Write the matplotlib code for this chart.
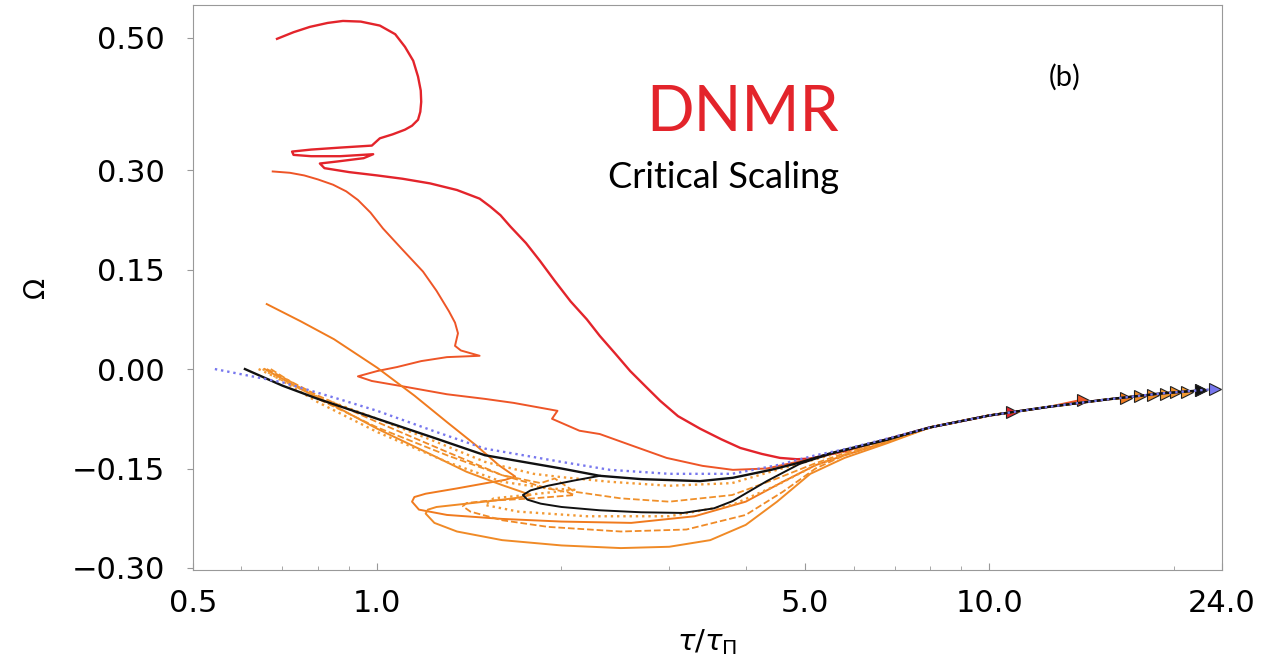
import numpy as np
import matplotlib
matplotlib.use("Agg")
from matplotlib import pyplot as plt
from matplotlib.ticker import FixedLocator, NullFormatter, LogLocator

# shared late-time attractor that all trajectories fall onto
att_x = [8.0, 10.0, 12.5, 15.5, 19.0, 24.0]
att_y = [-0.088, -0.070, -0.057, -0.046, -0.037, -0.029]

# DNMR trajectories (early part)
red_x = [0.686, 0.73, 0.776, 0.83, 0.879, 0.94, 1.01, 1.07, 1.11, 1.145, 1.166, 1.178, 1.18,
         1.176, 1.166, 1.14, 1.11, 1.06, 1.01, 0.98, 0.87, 0.78, 0.726, 0.73, 0.78, 0.87,
         0.985, 0.95, 0.86, 0.806, 0.82, 0.9, 1.0, 1.1, 1.22, 1.35, 1.47, 1.53, 1.59, 1.65,
         1.75, 1.845, 1.95, 2.07, 2.2, 2.31, 2.45, 2.59, 2.75, 2.9, 3.1, 3.37, 3.65, 3.92,
         4.25, 4.55, 4.85, 5.1, 5.8, 6.8]
red_y = [0.498, 0.508, 0.516, 0.522, 0.525, 0.524, 0.518, 0.505, 0.486, 0.465, 0.441, 0.42,
         0.403, 0.388, 0.376, 0.367, 0.361, 0.354, 0.348, 0.337, 0.334, 0.331, 0.328, 0.323,
         0.321, 0.321, 0.324, 0.318, 0.313, 0.310, 0.303, 0.297, 0.292, 0.287, 0.280, 0.270,
         0.257, 0.245, 0.232, 0.215, 0.19, 0.163, 0.133, 0.102, 0.075, 0.050, 0.023, -0.003,
         -0.027, -0.048, -0.071, -0.090, -0.106, -0.119, -0.128, -0.134, -0.136, -0.135,
         -0.124, -0.106]

ored_x = [0.675, 0.72, 0.76, 0.8, 0.847, 0.89, 0.93, 0.975, 1.022, 1.10, 1.188, 1.25, 1.31,
          1.34, 1.355, 1.34, 1.37, 1.47, 1.30, 1.18, 1.077, 1.0, 0.93, 0.98, 1.10, 1.30,
          1.50, 1.67, 1.97, 1.93, 2.14, 2.31, 2.6, 2.97, 3.4, 3.81, 4.33, 4.9, 5.6, 6.8]
ored_y = [0.298, 0.296, 0.292, 0.286, 0.278, 0.268, 0.255, 0.236, 0.212, 0.180, 0.147, 0.118,
          0.087, 0.07, 0.054, 0.035, 0.028, 0.020, 0.018, 0.012, 0.003, -0.003, -0.011,
          -0.018, -0.026, -0.038, -0.045, -0.051, -0.063, -0.075, -0.093, -0.098, -0.115,
          -0.134, -0.146, -0.152, -0.150, -0.139, -0.126, -0.107]

o1_x = [0.66, 0.75, 0.85, 1.0, 1.15, 1.3, 1.45, 1.58, 1.68, 1.62, 1.55, 1.35, 1.2, 1.15,
        1.14, 1.17, 1.3, 1.6, 2.0, 2.6, 3.3, 4.0, 4.6, 5.2, 5.8, 6.8]
o1_y = [0.098, 0.072, 0.045, 0.002, -0.04, -0.08, -0.115, -0.145, -0.162, -0.167, -0.17,
        -0.18, -0.188, -0.193, -0.2, -0.212, -0.22, -0.226, -0.23, -0.232, -0.222, -0.2,
        -0.17, -0.145, -0.13, -0.11]

o2_x = [0.655, 0.75, 0.85, 1.0, 1.2, 1.4, 1.6, 1.72, 1.78, 1.7, 1.6, 1.4, 1.25, 1.21, 1.2,
        1.24, 1.35, 1.6, 2.0, 2.5, 3.0, 3.5, 4.0, 4.5, 5.1, 5.8, 6.8]
o2_y = [0.0, -0.03, -0.055, -0.09, -0.125, -0.155, -0.175, -0.185, -0.19, -0.194, -0.197,
        -0.203, -0.208, -0.212, -0.218, -0.232, -0.245, -0.258, -0.266, -0.27, -0.268,
        -0.258, -0.235, -0.2, -0.158, -0.134, -0.112]

o3_x = [0.66, 0.8, 1.0, 1.3, 1.6, 1.9, 2.05, 2.1, 1.8, 1.5, 1.4, 1.38, 1.42, 1.6, 1.9, 2.5,
        3.2, 4.0, 4.6, 5.2, 5.8, 6.8]
o3_y = [0.0, -0.04, -0.08, -0.125, -0.16, -0.18, -0.186, -0.19, -0.195, -0.199, -0.202,
        -0.207, -0.215, -0.228, -0.238, -0.245, -0.242, -0.22, -0.185, -0.15, -0.13, -0.11]

o4_x = [0.64, 0.8, 1.0, 1.25, 1.5, 1.8, 2.0, 2.4, 3.0, 3.8, 4.5, 5.2, 5.8, 6.8]
o4_y = [0.0, -0.042, -0.075, -0.11, -0.14, -0.158, -0.163, -0.17, -0.176, -0.172, -0.152,
        -0.136, -0.124, -0.107]

o5_x = [0.67, 0.8, 1.0, 1.3, 1.6, 1.85, 1.95, 2.1, 2.5, 3.0, 3.8, 4.5, 5.2, 5.8, 6.8]
o5_y = [0.0, -0.045, -0.088, -0.13, -0.16, -0.172, -0.165, -0.185, -0.195, -0.2, -0.19,
        -0.165, -0.142, -0.127, -0.108]

o6_x = [0.65, 0.8, 1.0, 1.3, 1.6, 1.9, 2.1, 1.75, 1.55, 1.5, 1.7, 2.2, 3.0, 3.8, 4.5, 5.2,
        5.8, 6.8]
o6_y = [0.0, -0.05, -0.095, -0.14, -0.17, -0.18, -0.182, -0.19, -0.195, -0.205, -0.215,
        -0.222, -0.222, -0.205, -0.175, -0.145, -0.129, -0.109]

blk_x = [0.608, 0.7, 0.8, 1.0, 1.25, 1.5, 2.0, 2.31, 2.7, 3.37, 3.81, 4.4, 4.9, 5.5, 6.8]
blk_y = [0.0, -0.025, -0.045, -0.075, -0.105, -0.13, -0.15, -0.161, -0.166, -0.169, -0.164,
         -0.152, -0.141, -0.127, -0.106]

blk2_x = [2.31, 2.1, 1.9, 1.78, 1.73, 1.76, 1.85, 2.0, 2.31, 2.7, 3.16, 3.55, 3.81, 4.33,
          4.9, 5.5, 6.8]
blk2_y = [-0.161, -0.168, -0.176, -0.183, -0.19, -0.197, -0.203, -0.208, -0.213, -0.216,
          -0.217, -0.21, -0.199, -0.169, -0.143, -0.128, -0.107]

blue_x = [0.543, 0.7, 0.85, 1.0, 1.25, 1.5, 2.0, 2.4, 3.0, 3.8, 4.5, 5.2, 5.8, 6.8]
blue_y = [0.0, -0.02, -0.043, -0.063, -0.095, -0.12, -0.14, -0.152, -0.158, -0.158, -0.145,
          -0.13, -0.121, -0.105]

# where each trajectory stops (arrow head)
end_x = [10.9, 14.2, 16.7, 17.6, 18.5, 19.4, 20.2, 21.0, 22.2, 22.2, 23.4]
end_y = [-0.065, -0.046, -0.043, -0.041, -0.039, -0.037, -0.035, -0.034, -0.032, -0.032, -0.030]

curves = [
    (red_x, red_y, "#e3242b", "-", 1.7),
    (ored_x, ored_y, "#ee5527", "-", 1.4),
    (o1_x, o1_y, "#f07a1e", "-", 1.4),
    (o2_x, o2_y, "#f08a26", "-", 1.4),
    (o3_x, o3_y, "#f08a26", "--", 1.3),
    (o4_x, o4_y, "#f29a35", ":", 1.7),
    (o5_x, o5_y, "#f0902a", "--", 1.3),
    (o6_x, o6_y, "#f29a35", ":", 1.7),
    (blk_x, blk_y, "#111111", "-", 1.7),
    (blk2_x, blk2_y, "#111111", "-", 1.4),
    (blue_x, blue_y, "#7777ee", ":", 1.7),
]

plt.rcParams["mathtext.fontset"] = "dejavusans"
fig = plt.figure(figsize=(12.71, 6.70), dpi=100)
ax = fig.add_axes([0.1518, 0.1493, 0.8097, 0.8432])

for (cx, cy, col, ls, lw), ex, ey in zip(curves, end_x, end_y):
    xs = list(cx) + [a for a in att_x if cx[-1] < a < ex] + [ex]
    ys = list(cy) + [b for a, b in zip(att_x, att_y) if cx[-1] < a < ex] + [ey]
    ax.plot(xs, ys, color=col, ls=ls, lw=lw, solid_joinstyle="round")
    ax.plot([ex], [ey], marker=">", ms=8, color=col, mec="#222222", mew=0.8)

ax.set_xscale("log")
ax.set_xlim(0.5, 24)
ax.set_ylim(-0.303, 0.549)
ax.xaxis.set_major_locator(FixedLocator([0.5, 1.0, 5.0, 10.0, 24.0]))
ax.set_xticklabels(["0.5", "1.0", "5.0", "10.0", "24.0"])
ax.xaxis.set_minor_locator(LogLocator(base=10, subs=np.arange(2, 10)))
ax.xaxis.set_minor_formatter(NullFormatter())
ax.set_yticks([-0.30, -0.15, 0.0, 0.15, 0.30, 0.50])
ax.set_yticklabels(["\u22120.30", "\u22120.15", "0.00", "0.15", "0.30", "0.50"])

for s in ax.spines.values():
    s.set_color("#999999")
ax.tick_params(axis="y", direction="out", length=4, color="#999999", labelsize=22, pad=16)
ax.tick_params(axis="x", which="both", direction="in", color="#999999", labelsize=22, pad=14)
ax.tick_params(axis="x", which="major", length=5)
ax.tick_params(axis="x", which="minor", length=3)

ax.set_xlabel(r"$\tau/\tau_\Pi$", fontsize=21, labelpad=6)
ax.set_ylabel("\u03a9", fontsize=20, labelpad=16)

fig.text(0.5846, 0.832, "DNMR", color="#e3242b", fontsize=45, family="Lato",
         ha="center", va="center")
fig.text(0.569, 0.735, "Critical Scaling", color="black", fontsize=26, family="Lato",
         ha="center", va="center")
fig.text(0.838, 0.885, "(b)", color="black", fontsize=21, family="Lato",
         ha="center", va="center")

plt.savefig("out.png")
